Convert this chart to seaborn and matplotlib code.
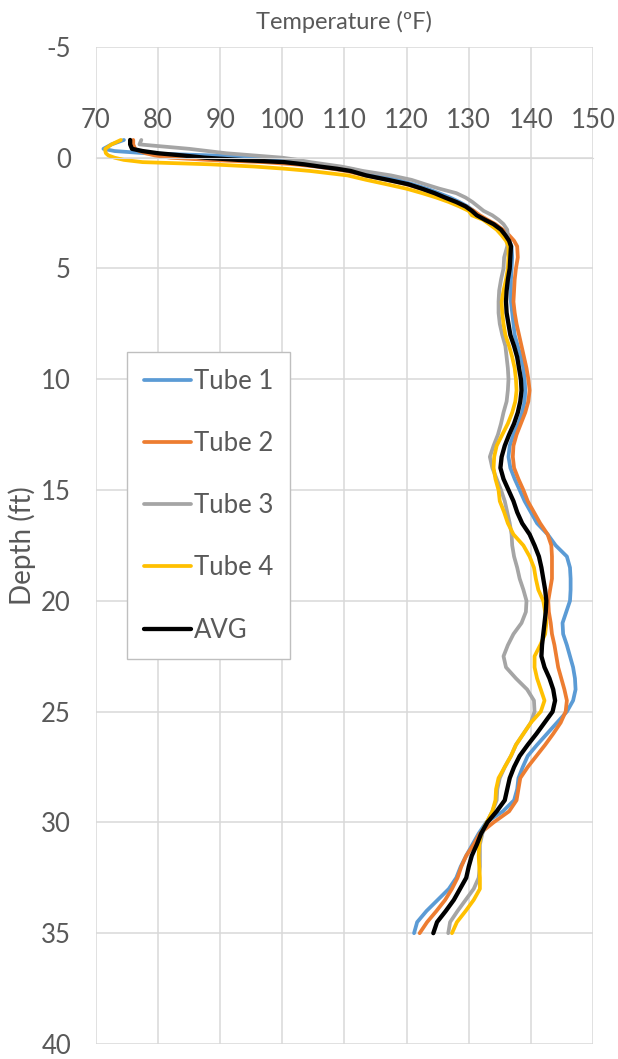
import numpy as np
import pandas as pd
import seaborn as sns
import matplotlib.pyplot as plt

# depth (ft) shared by all tubes
depth = [-0.8, -0.6, -0.4, -0.3, -0.2, -0.1, 0.0, 0.1, 0.2, 0.3, 0.4, 0.5, 0.6, 0.8,
         1.0, 1.2, 1.4, 1.6, 1.8, 2.0, 2.2, 2.4, 2.6, 2.8, 3.0, 3.25, 3.5, 3.75, 4.0,
         4.5, 5.0, 5.5, 6.0, 6.5, 7.0, 7.5, 8.0, 8.5, 9.0, 9.5, 10.0, 10.5, 11.0, 11.5,
         12.0, 12.5, 13.0, 13.5, 14.0, 14.5, 15.0, 15.5, 16.0, 16.5, 17.0, 17.5, 18.0,
         18.5, 19.0, 19.5, 20.0, 20.5, 21.0, 21.5, 22.0, 22.5, 23.0, 23.5, 24.0, 24.5,
         25.0, 25.5, 26.0, 26.5, 27.0, 27.5, 28.0, 28.5, 29.0, 29.5, 30.0, 30.5, 31.0,
         31.5, 32.0, 32.5, 33.0, 33.5, 34.0, 34.5, 35.0]

# temperature (F)
tube1 = [74.5, 72.5, 71.2, 73.0, 78.0, 89.0, 95.0, 100.0, 103.0, 105.5, 108.5, 110.8, 112.5, 115.5,
         118.5, 121.0, 123.3, 125.2, 127.0, 128.5, 129.8, 130.8, 131.5, 132.5, 133.6, 134.8, 135.8, 136.5, 136.9,
         137.0, 136.9, 136.8, 136.8, 136.8, 137.0, 137.2, 137.4, 137.9, 138.4, 138.8, 139.0, 139.1, 139.0, 138.6,
         138.0, 137.2, 136.6, 136.4, 136.7, 137.4, 138.2, 139.0, 140.0, 141.0, 142.7, 144.0, 145.8,
         146.3, 146.4, 146.4, 146.3, 145.7, 145.1, 145.2, 145.8, 146.3, 146.8, 147.1, 147.2, 146.8,
         145.8, 144.2, 142.6, 141.0, 139.5, 138.7, 138.0, 137.8, 137.3, 135.5, 132.8, 131.6, 130.6,
         129.6, 128.7, 128.0, 126.8, 125.0, 123.2, 121.7, 121.2]

tube2 = [76.0, 76.0, 76.3, 77.0, 78.0, 79.5, 82.0, 88.0, 97.0, 102.0, 105.5, 108.0, 110.3, 113.3,
         116.8, 120.0, 122.3, 124.3, 126.2, 128.0, 129.5, 130.8, 131.8, 133.0, 134.3, 135.5, 136.5, 137.3, 137.8,
         137.9, 137.6, 137.4, 137.3, 137.2, 137.4, 137.7, 138.1, 138.5, 138.9, 139.3, 139.6, 139.8, 139.6, 139.1,
         138.4, 137.7, 137.2, 137.1, 137.3, 138.0, 138.8, 139.5, 140.5, 141.5, 142.7, 143.3, 143.4,
         143.4, 143.4, 143.1, 142.8, 142.9, 143.2, 143.4, 143.8, 144.1, 144.4, 144.9, 145.4, 145.8,
         145.6, 144.8, 143.6, 142.3, 140.9, 139.5, 138.3, 138.0, 137.7, 136.5, 134.0, 131.8, 130.8,
         129.6, 128.8, 128.2, 127.3, 126.2, 124.8, 123.3, 122.1]

tube3 = [77.3, 77.0, 85.0, 88.0, 91.0, 95.5, 100.0, 102.5, 104.5, 107.0, 109.5, 111.3, 113.0, 117.5,
         120.8, 123.0, 125.3, 128.0, 129.5, 130.6, 131.5, 132.4, 133.8, 134.8, 135.6, 136.2, 136.3, 136.3, 136.2,
         135.7, 135.6, 135.2, 134.9, 134.8, 134.8, 135.0, 135.4, 135.9, 136.1, 136.3, 136.4, 136.3, 136.1, 135.6,
         135.2, 134.7, 134.0, 133.4, 133.8, 134.5, 135.2, 135.8, 136.2, 136.6, 136.9, 137.0, 137.3,
         137.8, 138.2, 138.8, 139.3, 139.2, 138.5, 137.2, 136.3, 135.6, 136.0, 137.6, 139.4, 140.5,
         140.6, 140.0, 138.8, 137.6, 136.8, 135.8, 135.0, 134.6, 134.5, 133.8, 132.9, 132.2, 131.8,
         131.8, 131.8, 131.6, 130.8, 129.5, 128.2, 127.0, 126.7]

tube4 = [74.0, 72.5, 71.5, 71.5, 71.6, 72.0, 73.0, 74.5, 77.5, 88.5, 95.5, 100.5, 104.5, 110.5,
         113.5, 116.8, 120.0, 122.5, 124.8, 126.8, 128.5, 130.0, 130.5, 132.3, 133.3, 134.5, 135.3, 136.0, 136.4,
         136.4, 136.3, 136.0, 135.6, 135.3, 135.4, 135.6, 135.9, 136.5, 137.0, 137.4, 137.6, 137.7, 137.5, 137.0,
         136.3, 135.4, 134.5, 134.1, 134.0, 134.3, 134.8, 135.0, 135.7, 136.3, 137.2, 138.8, 139.8,
         140.5, 140.8, 141.2, 142.0, 142.3, 142.5, 142.3, 141.5, 140.6, 140.6, 141.0, 141.6, 142.2,
         141.6, 140.0, 138.8, 137.6, 136.8, 135.8, 134.8, 134.4, 134.3, 133.8, 132.9, 132.0, 131.7,
         131.6, 131.7, 131.8, 131.8, 130.8, 129.5, 128.1, 127.3]

avg = [75.5, 75.5, 75.8, 77.5, 80.0, 84.0, 87.5, 93.0, 100.3, 103.5, 106.0, 108.8, 111.0, 113.5,
       117.0, 120.3, 122.5, 124.5, 126.2, 128.0, 129.5, 130.5, 131.3, 132.6, 134.0, 135.2, 135.9, 136.5, 136.8,
       136.7, 136.6, 136.3, 136.1, 136.0, 136.1, 136.4, 136.7, 137.3, 137.8, 138.1, 138.4, 138.5, 138.3, 137.9,
       137.3, 136.5, 135.8, 135.3, 135.1, 135.6, 136.4, 137.2, 137.8, 138.6, 139.8, 140.6, 141.3,
       141.7, 142.0, 142.3, 142.5, 142.4, 142.2, 142.0, 141.8, 141.7, 142.2, 143.0, 143.6, 143.9,
       143.5, 142.2, 140.9, 139.5, 138.2, 137.3, 136.6, 136.2, 135.8, 134.5, 133.0, 132.0, 131.3,
       130.5, 130.0, 129.6, 128.6, 127.6, 126.3, 124.9, 124.3]

series = ["Tube 1", "Tube 2", "Tube 3", "Tube 4", "AVG"]
colors = ["#5B9BD5", "#ED7D31", "#A5A5A5", "#FFC000", "#000000"]

sns.set_style("white")
plt.rcParams['font.family'] = ['Lato', 'DejaVu Sans']
plt.rcParams['axes.unicode_minus'] = False
txt = "#595959"
fs = 18.5

fig = plt.figure(figsize=(6.18, 10.59), dpi=100)
ax = fig.add_axes([0.1553, 0.0142, 0.8042, 0.9415])

for name, temps, c in zip(series, [tube1, tube2, tube3, tube4, avg], colors):
    df = pd.DataFrame({'depth': depth, 'temp': temps})
    sns.lineplot(data=df, x='temp', y='depth', color=c, label=name, sort=False,
                 estimator=None, lw=3.1 if name == "AVG" else 2.7, ax=ax)

ax.set_xlim(70, 150)
ax.set_ylim(40, -5)
ax.set_xticks(np.arange(70, 151, 10))
ax.set_yticks(np.arange(-5, 41, 5))
ax.grid(True, color="#D9D9D9", lw=1.1)
ax.set_axisbelow(True)
for s in ['left', 'right', 'bottom']:
    ax.spines[s].set_visible(False)
ax.spines['top'].set_position(('data', 0))
ax.spines['top'].set_color("#D9D9D9")
ax.xaxis.tick_top()
ax.tick_params(axis='x', length=0, pad=18, labelsize=fs, labelcolor=txt)
ax.tick_params(axis='y', length=0, pad=18, labelsize=fs, labelcolor=txt)

ax.xaxis.set_label_position('top')
ax.set_xlabel("Temperature (ºF)", fontsize=17, color=txt)
ax.xaxis.set_label_coords(0.5, 1.018)
ax.set_ylabel("Depth (ft)", fontsize=20, color=txt)
ax.yaxis.set_label_coords(-0.12, 0.5)

leg = ax.legend(loc='upper left', bbox_to_anchor=(0.0624, 0.694), fontsize=fs,
                frameon=True, fancybox=False, framealpha=1, edgecolor="#BFBFBF",
                handlelength=1.85, handletextpad=0.1, labelspacing=1.45, borderpad=0.65,
                borderaxespad=0)
for t in leg.get_texts():
    t.set_color(txt)

fig.savefig("out.png", dpi=100)
